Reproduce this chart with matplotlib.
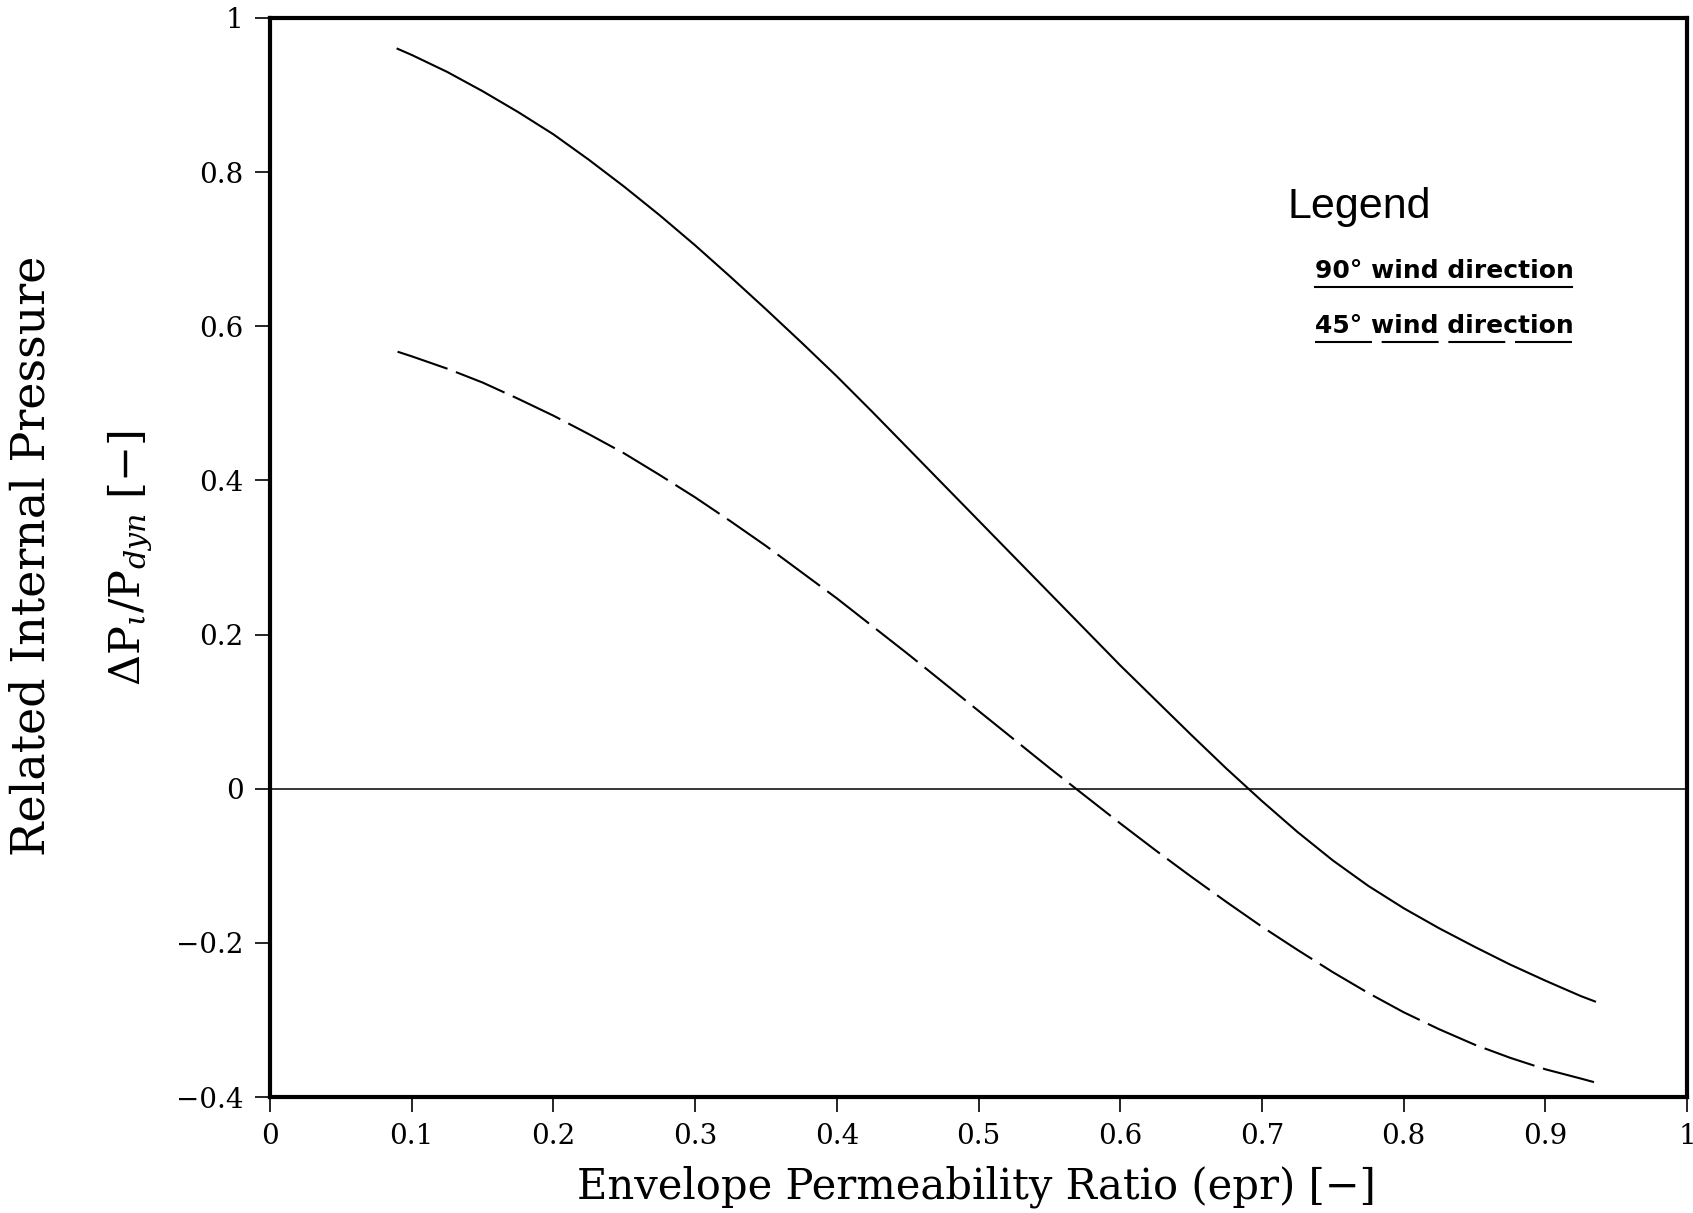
import matplotlib
matplotlib.use('Agg')
import matplotlib.pyplot as plt

plt.rcParams['font.family'] = 'DejaVu Serif'
plt.rcParams['mathtext.fontset'] = 'dejavuserif'
plt.rcParams['lines.scale_dashes'] = False

# values
epr90 = [0.09, 0.10, 0.125, 0.15, 0.175, 0.20, 0.225, 0.25, 0.275, 0.30, 0.325,
         0.35, 0.375, 0.40, 0.425, 0.45, 0.475, 0.50, 0.525, 0.55, 0.575, 0.60,
         0.625, 0.65, 0.675, 0.70, 0.725, 0.75, 0.775, 0.80, 0.825, 0.85, 0.875,
         0.90, 0.925, 0.935]
p90 = [0.960, 0.952, 0.930, 0.905, 0.878, 0.849, 0.816, 0.781, 0.744, 0.705,
       0.664, 0.622, 0.579, 0.535, 0.489, 0.442, 0.395, 0.348, 0.301, 0.254,
       0.207, 0.160, 0.115, 0.070, 0.026, -0.016, -0.056, -0.093, -0.126,
       -0.155, -0.181, -0.205, -0.228, -0.249, -0.269, -0.276]

epr45 = [0.09, 0.10, 0.125, 0.15, 0.175, 0.20, 0.225, 0.25, 0.275, 0.30, 0.325,
         0.35, 0.375, 0.40, 0.425, 0.45, 0.475, 0.50, 0.525, 0.55, 0.575, 0.60,
         0.625, 0.65, 0.675, 0.70, 0.725, 0.75, 0.775, 0.80, 0.825, 0.85, 0.875,
         0.90, 0.925, 0.935]
p45 = [0.567, 0.561, 0.545, 0.527, 0.506, 0.484, 0.460, 0.435, 0.407, 0.378,
       0.347, 0.315, 0.281, 0.247, 0.211, 0.175, 0.138, 0.101, 0.064, 0.027,
       -0.009, -0.045, -0.080, -0.114, -0.147, -0.179, -0.209, -0.238, -0.265,
       -0.290, -0.312, -0.332, -0.349, -0.364, -0.376, -0.381]

xticks = [0, 0.1, 0.2, 0.3, 0.4, 0.5, 0.6, 0.7, 0.8, 0.9, 1]
xlabels = ['0', '0.1', '0.2', '0.3', '0.4', '0.5', '0.6', '0.7', '0.8', '0.9', '1']
yticks = [-0.4, -0.2, 0, 0.2, 0.4, 0.6, 0.8, 1]
ylabels = ['\u22120.4', '\u22120.2', '0', '0.2', '0.4', '0.6', '0.8', '1']

fig = plt.figure(figsize=(16.93, 12.13), dpi=100)
ax = fig.add_axes([0.1595, 0.0956, 0.837, 0.8896])

ax.plot(epr90, p90, color='black', lw=1.5, solid_joinstyle='round')
ax.plot(epr45, p45, color='black', lw=1.5, dashes=(38, 6.5))
ax.axhline(0, color='black', lw=1.1)

ax.set_xlim(0, 1)
ax.set_ylim(-0.4, 1)
ax.set_xticks(xticks)
ax.set_xticklabels(xlabels)
ax.set_yticks(yticks)
ax.set_yticklabels(ylabels)
ax.tick_params(direction='out', length=11, width=1.2, labelsize=20, pad=8)
for s in ax.spines.values():
    s.set_linewidth(3)

fig.text(0.577, 0.022, 'Envelope Permeability Ratio (epr) [\u2212]',
         ha='center', va='center', fontsize=30)
fig.text(0.019, 0.5416, 'Related Internal Pressure', rotation=90,
         ha='center', va='center', fontsize=33)
fig.text(0.0768, 0.54, r'$\Delta\mathrm{P}_{\iota}/\mathrm{P}_{dyn}$' + ' [\u2212]',
         rotation=90, ha='center', va='center', fontsize=31)

# legend block
ax.text(0.718, 0.8147, 'Legend', transform=ax.transAxes,
        family='Liberation Sans', fontsize=31, va='baseline')
ax.text(0.7375, 0.759, '90\u00b0 wind direction', transform=ax.transAxes,
        family='DejaVu Sans', fontsize=18, fontweight='bold', va='baseline')
ax.text(0.7375, 0.708, '45\u00b0 wind direction', transform=ax.transAxes,
        family='DejaVu Sans', fontsize=18, fontweight='bold', va='baseline')
ax.plot([0.7375, 0.919], [0.7507, 0.7507], transform=ax.transAxes,
        color='black', lw=1.5)
ax.plot([0.7375, 0.919], [0.6998, 0.6998], transform=ax.transAxes,
        color='black', lw=1.5, dashes=(41, 7))

fig.savefig('out.png', dpi=100)
